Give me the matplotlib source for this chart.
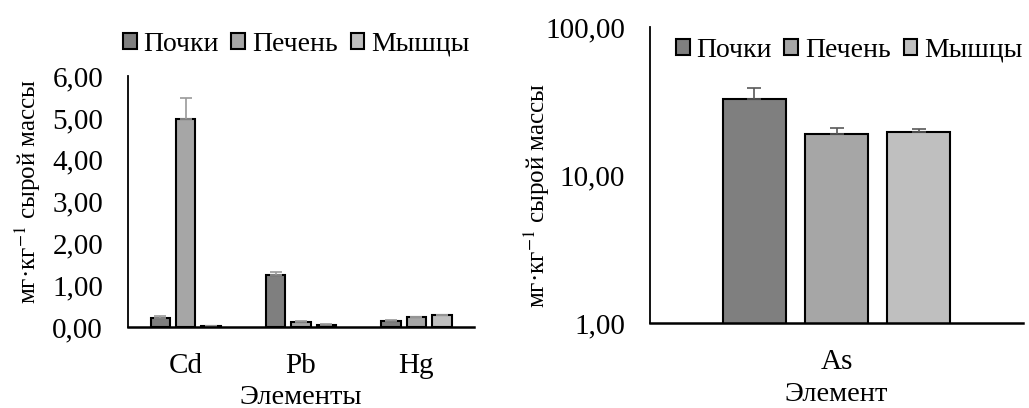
import numpy as np
import matplotlib
matplotlib.use('Agg')
import matplotlib.pyplot as plt
from matplotlib.ticker import FuncFormatter, FixedLocator, NullLocator
from matplotlib.patches import Patch

plt.rcParams['font.family'] = ['Liberation Serif', 'DejaVu Serif']
plt.rcParams['mathtext.fontset'] = 'stix'

# данные
tissues = ['Почки', 'Печень', 'Мышцы']
colors = ['#7f7f7f', '#a6a6a6', '#bfbfbf']

elements = ['Cd', 'Pb', 'Hg']
means = {
    'Почки': [0.22, 1.24, 0.15],
    'Печень': [4.97, 0.12, 0.23],
    'Мышцы': [0.02, 0.06, 0.28],
}
errs = {
    'Почки': [0.04, 0.08, 0.02],
    'Печень': [0.50, 0.02, 0.02],
    'Мышцы': [0.005, 0.005, 0.01],
}

as_label = ['As']
as_means = {'Почки': [32.6], 'Печень': [19.0], 'Мышцы': [19.6]}
as_errs = {'Почки': [6.0], 'Печень': [1.9], 'Мышцы': [0.8]}

ylabel = 'мг·кг$^{-1}$ сырой массы'
comma = FuncFormatter(lambda v, p: f'{v:.2f}'.replace('.', ','))

fig = plt.figure(figsize=(10.29, 4.08), dpi=100)
ax1 = fig.add_axes([0.1244, 0.1985, 0.3363, 0.615])
ax2 = fig.add_axes([0.6317, 0.2083, 0.3625, 0.7255])

width = 0.17
step = 0.22
fs_tick = 21
fs_leg = 20


def style(ax):
    for s in ['top', 'right']:
        ax.spines[s].set_visible(False)
    ax.spines['left'].set_linewidth(1.3)
    ax.spines['bottom'].set_linewidth(1.8)
    ax.tick_params(length=0, labelsize=fs_tick)
    ax.tick_params(axis='y', pad=18)
    ax.tick_params(axis='x', pad=19)


def legend(ax, anchor):
    handles = [Patch(facecolor=c, edgecolor='black', linewidth=1.5) for c in colors]
    ax.legend(handles, tissues, loc='center', bbox_to_anchor=anchor, ncol=3,
              frameon=False, fontsize=fs_leg, handlelength=0.5, handleheight=0.5,
              handletextpad=0.25, columnspacing=0.45, borderpad=0)


x = np.arange(len(elements))
for i, t in enumerate(tissues):
    ax1.bar(x + (i - 1) * step, means[t], width, color=colors[i], edgecolor='black',
            linewidth=1.5, yerr=[np.zeros(len(elements)), errs[t]],
            error_kw=dict(ecolor='#9a9a9a', elinewidth=1.2, capsize=4, capthick=1.2))
ax1.set_xlim(-0.5, 2.5)
ax1.set_ylim(0, 6)
ax1.set_yticks(np.arange(0, 7, 1))
ax1.yaxis.set_major_formatter(comma)
ax1.set_xticks(x)
ax1.set_xticklabels(elements)
style(ax1)
ax1.set_xlabel('Элементы', fontsize=20.5, labelpad=4)
ax1.set_ylabel(ylabel, fontsize=18)
ax1.yaxis.set_label_coords(-0.245, 0.54)
legend(ax1, (0.486, 1.127))

xa = np.arange(len(as_label))
for i, t in enumerate(tissues):
    ax2.bar(xa + (i - 1) * step, as_means[t], width, color=colors[i], edgecolor='black',
            linewidth=1.5, yerr=[np.zeros(1), as_errs[t]],
            error_kw=dict(ecolor='#595959', elinewidth=1.2, capsize=5, capthick=1.2))
ax2.set_yscale('log')
ax2.set_xlim(-0.5, 0.5)
ax2.set_ylim(1, 100)
ax2.yaxis.set_major_locator(FixedLocator([1, 10, 100]))
ax2.yaxis.set_minor_locator(NullLocator())
ax2.yaxis.set_major_formatter(comma)
ax2.set_xticks(xa)
ax2.set_xticklabels(as_label)
style(ax2)
ax2.set_xlabel('Элемент', fontsize=20.5, labelpad=5)
ax2.set_ylabel(ylabel, fontsize=18)
ax2.yaxis.set_label_coords(-0.262, 0.432)
legend(ax2, (0.534, 0.922))

fig.savefig('out.png', dpi=100)
